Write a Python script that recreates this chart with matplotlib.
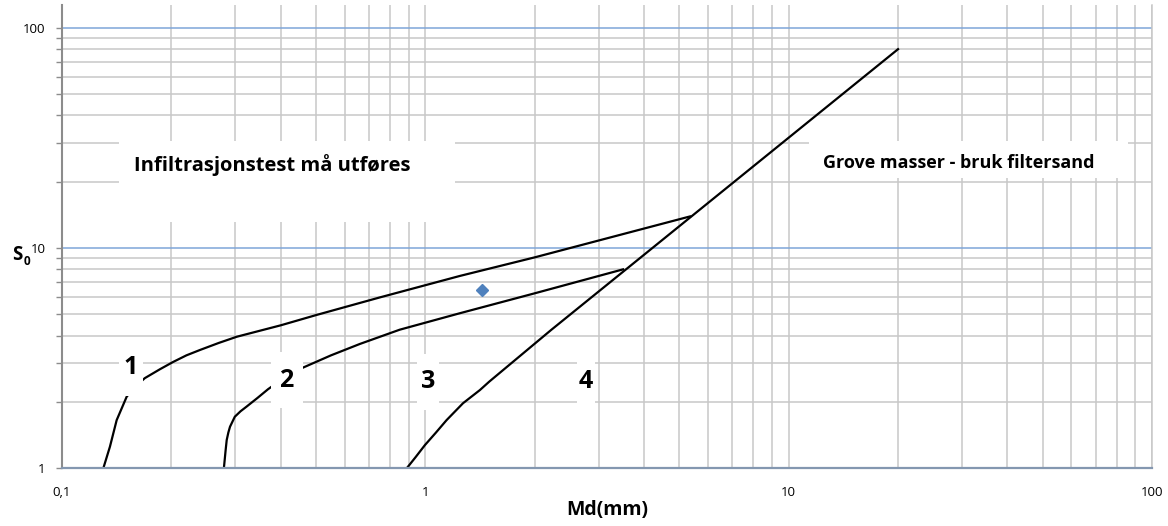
import numpy as np
import matplotlib.pyplot as plt
from matplotlib.patches import Rectangle
from matplotlib.ticker import FixedLocator, NullFormatter, LogLocator

plt.rcParams['font.family'] = ['Open Sans', 'DejaVu Sans']

# curve data (Md in mm, S0)
line1_x = [0.13, 0.1355, 0.1414, 0.1507, 0.160, 0.169, 0.186, 0.202, 0.220, 0.240, 0.270, 0.303, 0.40, 0.502, 0.75, 1.245, 2.0, 5.35]
line1_y = [1.0, 1.25, 1.65, 2.11, 2.36, 2.56, 2.81, 3.03, 3.25, 3.44, 3.70, 3.95, 4.45, 4.96, 5.96, 7.46, 9.06, 13.9]

line2_x = [0.279, 0.282, 0.284, 0.287, 0.290, 0.299, 0.310, 0.322, 0.345, 0.369, 0.41, 0.461, 0.55, 0.660, 0.85, 1.245, 2.0, 3.5]
line2_y = [1.0, 1.2, 1.34, 1.45, 1.54, 1.71, 1.81, 1.90, 2.08, 2.28, 2.58, 2.86, 3.25, 3.66, 4.25, 5.05, 6.22, 7.99]

line4_x = [0.89, 0.94, 0.997, 1.07, 1.144, 1.27, 1.413, 1.50, 2.22, 20.0]
line4_y = [1.0, 1.12, 1.27, 1.45, 1.65, 1.97, 2.26, 2.47, 4.24, 80.0]

point_x = [1.43]
point_y = [6.42]

x_ticks = [0.1, 1, 10, 100]
x_ticklabels = ['0,1', '1', '10', '100']
y_ticks = [1, 10, 100]
y_ticklabels = ['1', '10', '100']

zone_labels = ['1', '2', '3', '4']
zone_pos = [(0.155, 2.85), (0.415, 2.51), (1.02, 2.46), (2.76, 2.46)]
zone_halfw = [12, 16, 11, 9]   # px

W, H = 1168, 526
fig = plt.figure(figsize=(W / 100, H / 100), dpi=100)
ax_l, ax_r, ax_b, ax_t = 62, 1152, 468, 5
ax = fig.add_axes([ax_l / W, 1 - ax_b / H, (ax_r - ax_l) / W, (ax_b - ax_t) / H])
ax.set_xscale('log')
ax.set_yscale('log')
ymax = 127
ax.set_xlim(0.1, 100)
ax.set_ylim(1, ymax)

ax.xaxis.set_major_locator(FixedLocator(x_ticks))
ax.xaxis.set_minor_locator(LogLocator(base=10, subs=range(2, 10)))
ax.xaxis.set_minor_formatter(NullFormatter())
ax.set_xticklabels(x_ticklabels)
ax.yaxis.set_major_locator(FixedLocator(y_ticks))
ax.yaxis.set_minor_locator(LogLocator(base=10, subs=range(2, 10)))
ax.yaxis.set_minor_formatter(NullFormatter())
ax.set_yticklabels(y_ticklabels)

ax.tick_params(axis='x', which='both', length=0, pad=13, labelsize=9.5)
ax.tick_params(axis='y', which='both', length=4, width=1, color='#8c8c8c',
               direction='out', pad=8, labelsize=9.5)

ax.set_axisbelow(True)
grey = '#c8c8c8'
ax.xaxis.grid(True, which='both', color=grey, lw=1.1)
ax.yaxis.grid(True, which='minor', color=grey, lw=1.1)
ax.yaxis.grid(True, which='major', color='#7fa6d8', lw=1.1)

ax.spines['top'].set_visible(False)
ax.spines['right'].set_color(grey)
ax.spines['right'].set_linewidth(1.1)
ax.spines['left'].set_color('#8c8c8c')
ax.spines['left'].set_linewidth(1.5)
ax.spines['bottom'].set_color('#8497b0')
ax.spines['bottom'].set_linewidth(1.6)

# white text boxes
ax.add_patch(Rectangle((0.1435, 13.1), 1.21 - 0.1435, 30.5 - 13.1,
                       facecolor='white', edgecolor='none', zorder=1))
ax.add_patch(Rectangle((11.35, 20.8), 86 - 11.35, 30.5 - 20.8,
                       facecolor='white', edgecolor='none', zorder=1))
ax.text(0.379, 23.9, 'Infiltrasjonstest må utføres', ha='center', va='center',
        fontsize=14.5, fontweight='bold', zorder=4)
ax.text(29.4, 24.3, 'Grove masser - bruk filtersand', ha='center', va='center',
        fontsize=13, fontweight='bold', zorder=4)

# curves
for xs, ys in [(line1_x, line1_y), (line2_x, line2_y), (line4_x, line4_y)]:
    ax.plot(xs, ys, color='black', lw=1.6, zorder=2, solid_joinstyle='round')
ax.plot(point_x, point_y, linestyle='none', marker='D', ms=6,
        color='#4f81bd', zorder=2)

# zone labels with white boxes
dx = 3 / (ax_r - ax_l)             # decades per px
dy = np.log10(ymax) / (ax_b - ax_t)
for lab, (x, y), hw in zip(zone_labels, zone_pos, zone_halfw):
    hh = 28
    x0, x1 = x / 10 ** (hw * dx), x * 10 ** (hw * dx)
    y0, y1 = y / 10 ** (hh * dy), y * 10 ** (hh * dy)
    ax.add_patch(Rectangle((x0, y0), x1 - x0, y1 - y0, facecolor='white',
                           edgecolor='none', zorder=3))
    ax.text(x, y, lab, ha='center', va='center', fontsize=18,
            fontweight='bold', zorder=4)

fig.text(12 / W, 1 - 255 / H, 'S', ha='left', va='center', fontsize=13.5, fontweight='bold')
fig.text(24 / W, 1 - 262 / H, '0', ha='left', va='center', fontsize=8.5, fontweight='bold')
fig.text(607 / W, 1 - 510 / H, 'Md(mm)', ha='center', va='center',
         fontsize=14, fontweight='bold')

fig.savefig('out.png', dpi=100)
